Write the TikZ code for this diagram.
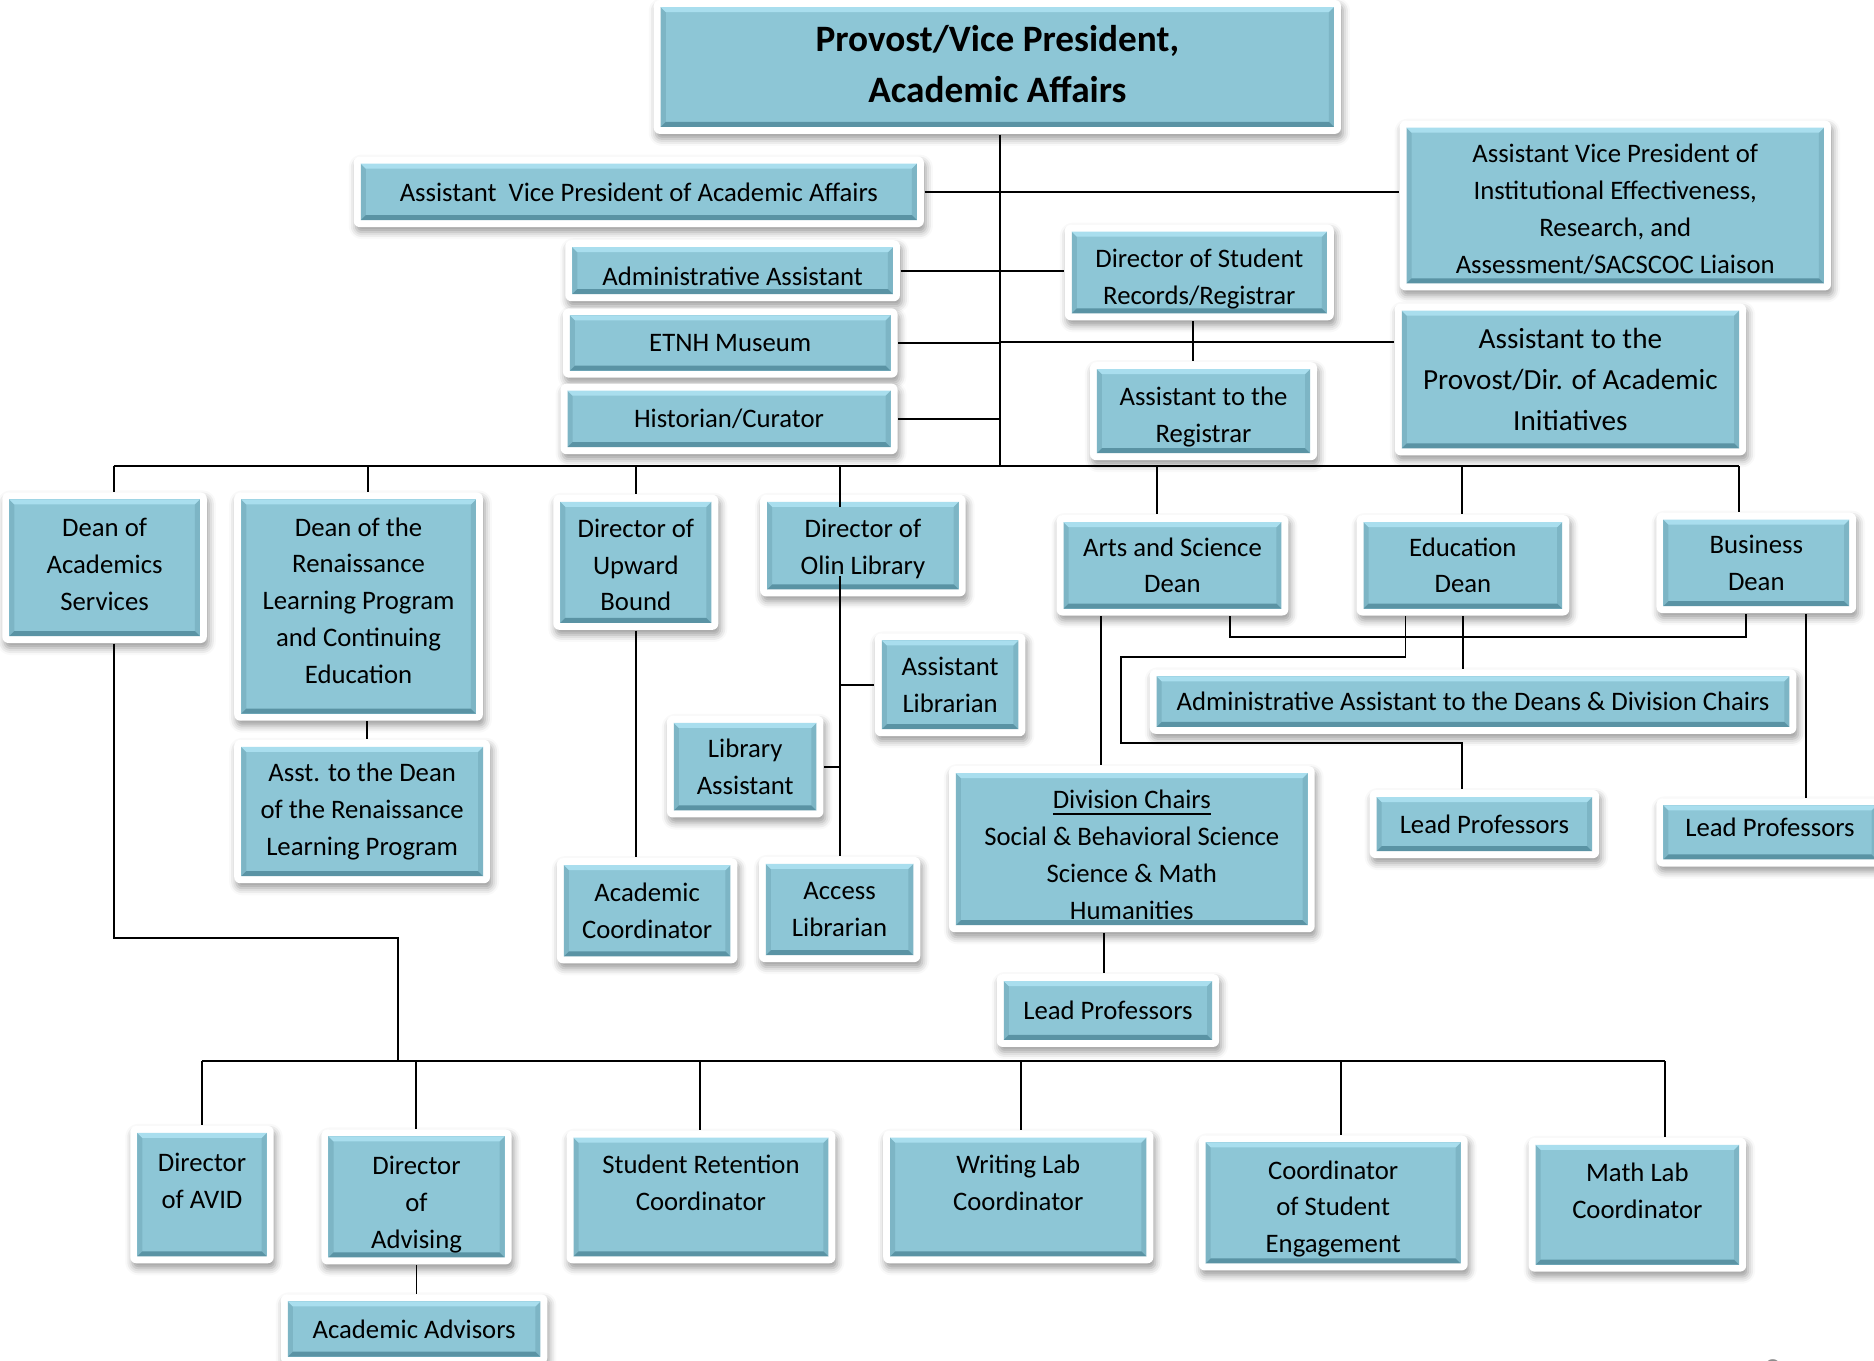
\documentclass[tikz,border=0pt]{standalone}
\usepackage{fontspec}
\setmainfont{Carlito}
\usetikzlibrary{shadows.blur}

\definecolor{boxblue}{HTML}{8DC6D6}
\definecolor{boxtop}{HTML}{A9DEEE}
\definecolor{boxbottom}{HTML}{5A93A4}
\definecolor{boxside}{HTML}{7DB5C5}

\newcommand{\orgtext}{\fontsize{7.6}{10.5}\selectfont}
\newcommand{\orgfirst}{0pt}

\tikzset{
  orgbox/.style={fill=white, rounded corners=0.06cm, inner sep=0pt, align=center, font=\orgtext,
    execute at begin node={\rule{0pt}{\orgfirst}},
    blur shadow={shadow xshift=0.02cm, shadow yshift=-0.05cm, shadow blur radius=0.07cm, shadow opacity=40},
    path picture={
      \coordinate (pa) at ([shift={(0.07cm,-0.07cm)}]path picture bounding box.north west);
      \coordinate (pb) at ([shift={(-0.07cm,0.07cm)}]path picture bounding box.south east);
      \coordinate (pc) at (pa -| pb);
      \coordinate (pd) at (pa |- pb);
      \fill[boxblue, sharp corners] (pa) rectangle (pb);
      \fill[boxside, sharp corners] (pa) -- ([shift={(0.05cm,-0.05cm)}]pa) -- ([shift={(0.05cm,0.05cm)}]pd) -- (pd) -- cycle;
      \fill[boxside, sharp corners] (pc) -- ([shift={(-0.05cm,-0.05cm)}]pc) -- ([shift={(-0.05cm,0.05cm)}]pb) -- (pb) -- cycle;
      \fill[boxtop, sharp corners] (pa) -- (pc) -- ([shift={(-0.05cm,-0.05cm)}]pc) -- ([shift={(0.05cm,-0.05cm)}]pa) -- cycle;
      \fill[boxbottom, sharp corners] (pd) -- (pb) -- ([shift={(-0.05cm,0.05cm)}]pb) -- ([shift={(0.05cm,0.05cm)}]pd) -- cycle;
    }},
  boxat/.code args={#1,#2,#3,#4}{%
    \pgfmathsetmacro{\boxw}{(#3-#1)*0.011952}%
    \pgfmathsetmacro{\boxh}{(#4-#2)*0.011952}%
    \pgfmathsetmacro{\boxx}{(#1+#3)/2}%
    \pgfmathsetmacro{\boxy}{(#2+#4)/2}%
    \edef\boxset{\noexpand\tikzset{minimum width=\boxw cm, minimum height=\boxh cm, at={(\boxx,\boxy)}}}%
    \boxset},
  firstline/.code={\renewcommand{\orgfirst}{#1}},
  toptext/.style={text depth=7.9pt},
  tie/.style={line width=0.55pt}
}

\begin{document}
\begin{tikzpicture}[x=0.011952cm, y=-0.011952cm]
\useasboundingbox (0,0) rectangle (1568,1138.7);

% top level
\node[orgbox, boxat={547,0,1122,112}, font=\fontsize{10.6}{14.6}\selectfont\bfseries, text depth=1.7pt] (provost) {Provost/Vice President,\\Academic Affairs};
\node[orgbox, boxat={296,131,773,190}] (avpaa) {Assistant~ Vice President of Academic Affairs};
\node[orgbox, boxat={1171,101,1532,243}, text height=38.8pt] (avpie) {Assistant Vice President of\\Institutional Effectiveness,\\Research, and\\Assessment/SACSCOC Liaison};
\node[orgbox, boxat={473,201,753,252}, firstline=1.1em] (adminasst) {Administrative Assistant};
\node[orgbox, boxat={891,188,1116,268}, text height=19.5pt] (regdir) {Director of Student\\Records/Registrar};
\node[orgbox, boxat={471,258,751,316}] (etnh) {ETNH Museum};
\node[orgbox, boxat={1167,254,1461,381}, font=\fontsize{8.3}{11.6}\selectfont] (provasst) {Assistant to the\\Provost/Dir. of Academic\\Initiatives};
\node[orgbox, boxat={469,321,751,380}] (historian) {Historian/Curator};
\node[orgbox, boxat={912,303,1102,385}, text height=19.2pt] (regasst) {Assistant to the\\Registrar};

% deans and directors
\node[orgbox, boxat={2,412,173,538}, text depth=2pt] (deanacad) {Dean of\\Academics\\Services};
\node[orgbox, boxat={196,412,404,603}, text depth=3.4pt] (renaiss) {Dean of the\\Renaissance\\Learning Program\\and Continuing\\Education};
\node[orgbox, boxat={463,414,601,527}, text height=27.7pt] (upward) {Director of\\Upward\\Bound};
\node[orgbox, boxat={636,414,808,499}, text height=17.8pt] (olin) {Director of\\Olin Library};
\node[orgbox, boxat={884,431,1078,515}] (artsdean) {Arts and Science\\Dean};
\node[orgbox, boxat={1135,431,1313,515}] (educdean) {Education\\Dean};
\node[orgbox, boxat={1386,429,1553,513}] (busdean) {Business\\Dean};

% staff under the deans
\node[orgbox, boxat={732,530,858,616}] (asstlib) {Assistant\\Librarian};
\node[orgbox, boxat={962,560,1503,614}] (aadeans) {Administrative Assistant to the Deans \& Division Chairs};
\node[orgbox, boxat={558,599,689,684}] (libasst) {Library\\Assistant};
\node[orgbox, boxat={196,619,410,739}] (asstdean) {Asst. to the Dean\\of the Renaissance\\Learning Program};
\node[orgbox, boxat={794,641,1100,780}, text height=40.2pt] (divchairs) {\underline{Division Chairs}\\Social \& Behavioral Science\\Science \& Math\\Humanities};
\node[orgbox, boxat={1146,661,1338,718}] (leadA) {Lead Professors};
\node[orgbox, boxat={1386,668,1576,725}, text depth=2.8pt] (leadB) {Lead Professors};
\node[orgbox, boxat={466,718,617,806}] (acadcoord) {Academic\\Coordinator};
\node[orgbox, boxat={635,717,770,805}] (access) {Access\\Librarian};
\node[orgbox, boxat={834,815,1020,876}] (leadC) {Lead Professors};

% academic services row
\node[orgbox, toptext, boxat={109,942,229,1057}] (avid) {Director\\of AVID};
\node[orgbox, boxat={269,945,428,1058}, text height=30.4pt] (advising) {Director\\of\\Advising};
\node[orgbox, toptext, boxat={474,946,699,1057}] (retention) {Student Retention\\Coordinator};
\node[orgbox, toptext, boxat={739,946,965,1057}] (writing) {Writing Lab\\Coordinator};
\node[orgbox, boxat={1003,950,1228,1063}, text height=29.7pt] (engage) {Coordinator\\of Student\\Engagement};
\node[orgbox, toptext, boxat={1279,952,1461,1064}] (mathlab) {Math Lab\\Coordinator};
\node[orgbox, boxat={235,1083,458,1141}] (advisors) {Academic Advisors};

\node[text=black!45, font=\fontsize{10}{12}\selectfont, anchor=north] (pagenum) at (1483,1127) {2};

% provost office
\coordinate (spine) at (837,390);
\draw[tie] (spine |- provost.south) -- (spine);
\draw[tie] (avpaa.east) -- (avpaa.east -| avpie.west);
\draw[tie] (adminasst.east) -- (adminasst.east -| regdir.west);
\draw[tie] (etnh.east) -- (etnh.east -| spine);
\draw[tie] (historian.east) -- (historian.east -| spine);
\draw[tie] (837,286) -- (837,286 -| provasst.west);
\draw[tie] (998,0 |- regdir.south) -- (998,0 |- regasst.north);

% main bus
\coordinate (busL) at (95,390);
\coordinate (busR) at (1455,390);
\draw[tie] (busL) -- (busR);
\foreach \x/\n in {95/deanacad, 308/renaiss, 532/upward, 968/artsdean, 1223/educdean, 1455/busdean}
  \draw[tie] (\x,390) -- (\x,390 |- \n.north);

% library
\draw[tie] (703,390) -- (703,424);
\draw[tie] (703,482) -- (703,482 |- access.north);
\draw[tie] (703,0 |- asstlib.west) -- (asstlib.west);
\draw[tie] (libasst.east) -- (libasst.east -| 703,0);

% renaissance and upward bound
\draw[tie] (307,0 |- renaiss.south) -- (307,0 |- asstdean.north);
\draw[tie] (upward.south) -- (upward.south |- acadcoord.north);

% deans
\draw[tie] (921,0 |- artsdean.south) -- (921,0 |- divchairs.north);
\draw[tie] (1029,0 |- artsdean.south) -- (1029,533) -- (1461,533) -- (1461,0 |- busdean.south);
\draw[tie] (1176,0 |- educdean.south) -- (1176,550) -- (938,550) -- (938,622) -- (1223,622) -- (1223,0 |- leadA.north);
\draw[tie] (educdean.south) -- (educdean.south |- aadeans.north);
\draw[tie] (1511,0 |- busdean.south) -- (1511,0 |- leadB.north);
\draw[tie] (924,0 |- divchairs.south) -- (924,0 |- leadC.north);

% academic services
\draw[tie] (95,0 |- deanacad.south) -- (95,785) -- (333,785) -- (333,888);
\draw[tie] (169,888) -- (1393,888);
\foreach \x/\n in {169/avid, 348/advising, 586/retention, 854/writing, 1122/engage, 1393/mathlab}
  \draw[tie] (\x,888) -- (\x,888 |- \n.north);
\draw[tie] (advising.south) -- (advising.south |- advisors.north);

\end{tikzpicture}
\end{document}
